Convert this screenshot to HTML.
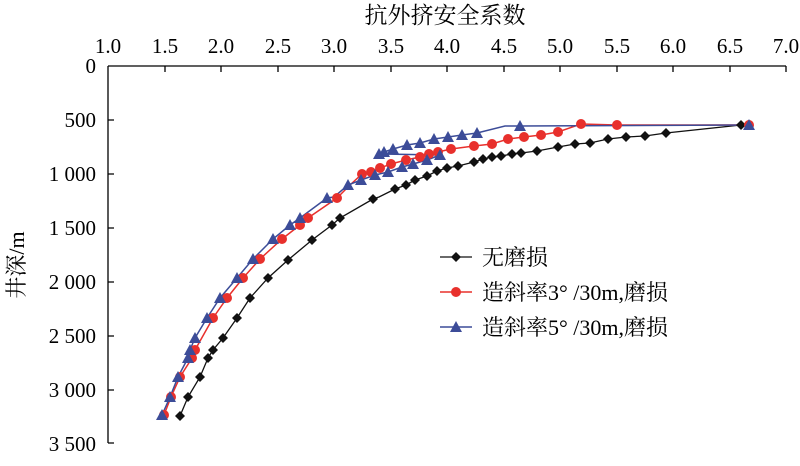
<!DOCTYPE html>
<html><head><meta charset="utf-8"><style>
body{margin:0;background:#fff}
svg text{font-family:"Liberation Serif","Noto Serif CJK SC",serif;fill:#000}
</style></head><body>
<svg width="800" height="461" viewBox="0 0 800 461" xmlns="http://www.w3.org/2000/svg">
<defs>
<path id="dm" d="M0,-5 L5,0 L0,5 L-5,0Z" fill="#111"/>
<circle id="ci" r="5" fill="#e8302c"/>
<path id="tr" d="M0,-6 L6,5 L-6,5Z" fill="#3c4c98"/>
</defs>
<text x="445" y="23" font-size="23" text-anchor="middle">抗外挤安全系数</text>
<g font-size="21" text-anchor="middle">
<text x="108" y="53">1.0</text><text x="165" y="53">1.5</text><text x="221" y="53">2.0</text><text x="278" y="53">2.5</text><text x="334" y="53">3.0</text><text x="391" y="53">3.5</text><text x="447" y="53">4.0</text><text x="504" y="53">4.5</text><text x="560" y="53">5.0</text><text x="617" y="53">5.5</text><text x="673" y="53">6.0</text><text x="730" y="53">6.5</text><text x="786" y="53">7.0</text>
</g>
<g font-size="21" text-anchor="end">
<text x="96" y="73">0</text><text x="96" y="127">500</text><text x="96" y="181">1 000</text><text x="96" y="235">1 500</text><text x="96" y="289">2 000</text><text x="96" y="343">2 500</text><text x="96" y="397">3 000</text><text x="96" y="451">3 500</text>
</g>
<text transform="translate(24,265) rotate(-90)" font-size="22" text-anchor="middle">井深/m</text>
<g stroke="#000" stroke-width="1.3" fill="none">
<path d="M108,66 H786 M108,66 V443"/>
<path d="M165,66v6M221,66v6M278,66v6M334,66v6M391,66v6M447,66v6M504,66v6M560,66v6M617,66v6M673,66v6M730,66v6M786,66v6"/>
<path d="M108,120h6M108,174h6M108,228h6M108,282h6M108,336h6M108,390h6M108,443h6"/>
</g>
<polyline fill="none" stroke="#111" stroke-width="1.3" points="741,125 666,133 645,136 626,137 608,139 590,143 575,144 558,147 537,151 521,153 512,154 501,156 492,157 483,159 474,162 458,166 447,168 437,171 427,176 415,180 406,185 395,189 379,197 373,199 340,218 332,225 312,240 288,260 268,278 250,298 237,318 223,338 213,350 208,358 200,377 188,397 180,416"/>
<polyline fill="none" stroke="#e8302c" stroke-width="1.5" points="749,125 617,125 581,124 558,132 541,135 524,137 508,139 492,144 474,146 451,149 438,152 429,154 420,157 406,160 391,164 380,168 371,172 362,174 350,185 337,198 308,218 300,225 282,239 260,259 243,278 227,298 213,318 195,350 192,358 180,377 171,397 164,415"/>
<polyline fill="none" stroke="#3c4c98" stroke-width="1.5" points="749,125 520,126 505,126 477,133 462,135 448,137 434,139 420,143 407,145 393,149 384,152 379,154 440,155 427,160 413,164 402,167 388,172 375,175 361,180 348,185 334,197 327,198 300,218 290,225 273,239 253,259 237,278 220,298 207,318 195,338 190,350 188,358 178,377 170,397 162,415"/>
<g>
<use href="#dm" x="741" y="125"/><use href="#dm" x="666" y="133"/><use href="#dm" x="645" y="136"/><use href="#dm" x="626" y="137"/><use href="#dm" x="608" y="139"/><use href="#dm" x="590" y="143"/><use href="#dm" x="575" y="144"/><use href="#dm" x="558" y="147"/><use href="#dm" x="537" y="151"/><use href="#dm" x="521" y="153"/><use href="#dm" x="512" y="154"/><use href="#dm" x="501" y="156"/><use href="#dm" x="492" y="157"/><use href="#dm" x="483" y="159"/><use href="#dm" x="474" y="162"/><use href="#dm" x="458" y="166"/><use href="#dm" x="447" y="168"/><use href="#dm" x="437" y="171"/><use href="#dm" x="427" y="176"/><use href="#dm" x="415" y="180"/><use href="#dm" x="406" y="185"/><use href="#dm" x="395" y="189"/><use href="#dm" x="373" y="199"/><use href="#dm" x="340" y="218"/><use href="#dm" x="332" y="225"/><use href="#dm" x="312" y="240"/><use href="#dm" x="288" y="260"/><use href="#dm" x="268" y="278"/><use href="#dm" x="250" y="298"/><use href="#dm" x="237" y="318"/><use href="#dm" x="223" y="338"/><use href="#dm" x="213" y="350"/><use href="#dm" x="208" y="358"/><use href="#dm" x="200" y="377"/><use href="#dm" x="188" y="397"/><use href="#dm" x="180" y="416"/>
</g>
<g>
<use href="#ci" x="749" y="125"/><use href="#ci" x="617" y="125"/><use href="#ci" x="581" y="124"/><use href="#ci" x="558" y="132"/><use href="#ci" x="541" y="135"/><use href="#ci" x="524" y="137"/><use href="#ci" x="508" y="139"/><use href="#ci" x="492" y="144"/><use href="#ci" x="474" y="146"/><use href="#ci" x="451" y="149"/><use href="#ci" x="438" y="152"/><use href="#ci" x="429" y="154"/><use href="#ci" x="420" y="157"/><use href="#ci" x="406" y="160"/><use href="#ci" x="391" y="164"/><use href="#ci" x="380" y="168"/><use href="#ci" x="371" y="172"/><use href="#ci" x="362" y="174"/><use href="#ci" x="337" y="198"/><use href="#ci" x="308" y="218"/><use href="#ci" x="300" y="225"/><use href="#ci" x="282" y="239"/><use href="#ci" x="260" y="259"/><use href="#ci" x="243" y="278"/><use href="#ci" x="227" y="298"/><use href="#ci" x="213" y="318"/><use href="#ci" x="195" y="350"/><use href="#ci" x="192" y="358"/><use href="#ci" x="180" y="377"/><use href="#ci" x="171" y="397"/><use href="#ci" x="164" y="415"/>
</g>
<g>
<use href="#tr" x="749" y="125"/><use href="#tr" x="520" y="126"/><use href="#tr" x="477" y="133"/><use href="#tr" x="462" y="135"/><use href="#tr" x="448" y="137"/><use href="#tr" x="434" y="139"/><use href="#tr" x="420" y="143"/><use href="#tr" x="407" y="145"/><use href="#tr" x="393" y="149"/><use href="#tr" x="384" y="152"/><use href="#tr" x="379" y="154"/><use href="#tr" x="440" y="155"/><use href="#tr" x="427" y="160"/><use href="#tr" x="413" y="164"/><use href="#tr" x="402" y="167"/><use href="#tr" x="388" y="172"/><use href="#tr" x="375" y="175"/><use href="#tr" x="361" y="180"/><use href="#tr" x="348" y="185"/><use href="#tr" x="327" y="198"/><use href="#tr" x="300" y="218"/><use href="#tr" x="290" y="225"/><use href="#tr" x="273" y="239"/><use href="#tr" x="253" y="259"/><use href="#tr" x="237" y="278"/><use href="#tr" x="220" y="298"/><use href="#tr" x="207" y="318"/><use href="#tr" x="195" y="338"/><use href="#tr" x="190" y="350"/><use href="#tr" x="188" y="358"/><use href="#tr" x="178" y="377"/><use href="#tr" x="170" y="397"/><use href="#tr" x="162" y="415"/>
</g>
<line x1="440" y1="257" x2="472" y2="257" stroke="#111" stroke-width="1.3"/><use href="#dm" x="456" y="257"/>
<line x1="440" y1="292" x2="472" y2="292" stroke="#e8302c" stroke-width="1.5"/><use href="#ci" x="456" y="292"/>
<line x1="440" y1="327" x2="472" y2="327" stroke="#3c4c98" stroke-width="1.5"/><use href="#tr" x="456" y="327"/>
<g font-size="22">
<text x="482" y="265">无磨损</text>
<text x="482" y="300">造斜率3° /30m,磨损</text>
<text x="482" y="335">造斜率5° /30m,磨损</text>
</g>
</svg>
</body></html>
